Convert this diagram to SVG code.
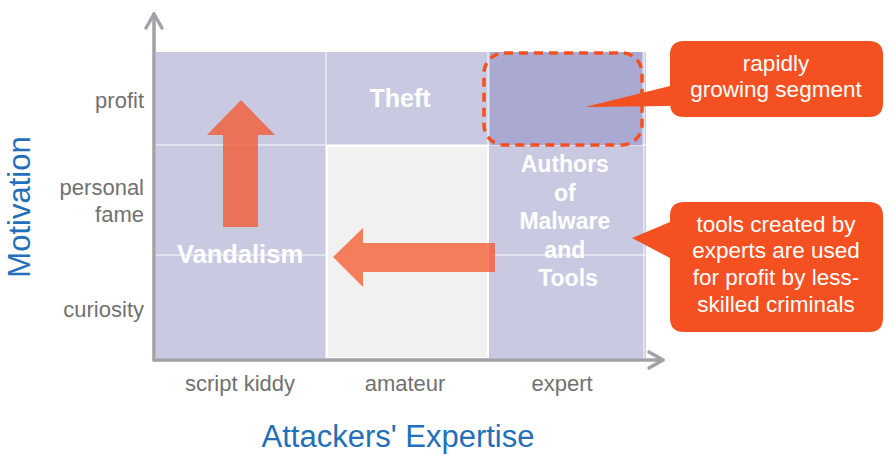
<svg xmlns="http://www.w3.org/2000/svg" width="893" height="464" viewBox="0 0 893 464">
<style>
.tick{font-family:"Liberation Sans",Arial,sans-serif;font-size:22px;fill:#717171}
.axt{font-family:"Liberation Sans",Arial,sans-serif;font-size:31px;fill:#2370b8}
.cell{font-family:"Liberation Sans",Arial,sans-serif;font-weight:bold;fill:#ffffff;text-anchor:middle}
.call{font-family:"Liberation Sans",Arial,sans-serif;font-size:22.5px;fill:#ffffff;text-anchor:middle}
.lav{fill:#c9cae2}
.grid{stroke:#ffffff;stroke-opacity:0.45;stroke-width:2;fill:none}
.axis{stroke:#a2a2a6;stroke-width:3.5;fill:none;stroke-linecap:round;stroke-linejoin:round}
.big{fill:#f55022;fill-opacity:0.72}
.bubble{fill:#f55022}
</style>
<rect width="893" height="464" fill="#ffffff"/>
<g id="grid">
<rect class="lav" x="156" y="52" width="490" height="93"/>
<rect class="lav" x="156" y="145" width="170" height="213"/>
<rect class="lav" x="489" y="145" width="157" height="213"/>
<rect x="327" y="146" width="161" height="212" fill="#f1f1f1" stroke="#ffffff" stroke-width="2"/>
<line class="grid" x1="326" y1="52" x2="326" y2="358"/>
<line class="grid" x1="488" y1="52" x2="488" y2="145"/>
<line class="grid" x1="156" y1="145" x2="646" y2="145"/>
<line class="grid" x1="156" y1="255" x2="326" y2="255"/>
<line class="grid" x1="490" y1="255" x2="646" y2="255"/>
<line class="grid" x1="644" y1="52" x2="644" y2="358"/>
</g>
<g id="segment">
<rect x="490" y="52" width="152" height="93" fill="#a9a9d1"/>
<rect x="484" y="53" width="158" height="92" rx="20" fill="none" stroke="#f55022" stroke-width="3.5" stroke-dasharray="9 6"/>
</g>
<g id="axes">
<line class="axis" x1="154" y1="360" x2="154" y2="14"/>
<polyline class="axis" points="146,28 154,14 162,28"/>
<line class="axis" x1="154" y1="360" x2="663" y2="360"/>
<polyline class="axis" points="649,352 663,360 649,368"/>
</g>
<g id="y-labels">
<text class="tick" x="144" y="108" text-anchor="end">profit</text>
<text class="tick" x="144" y="195" text-anchor="end">personal</text>
<text class="tick" x="144" y="222" text-anchor="end">fame</text>
<text class="tick" x="144" y="317" text-anchor="end">curiosity</text>
<text class="axt" transform="translate(30,207) rotate(-90)" text-anchor="middle">Motivation</text>
</g>
<g id="x-labels">
<text class="tick" x="240" y="391" text-anchor="middle">script kiddy</text>
<text class="tick" x="405" y="391" text-anchor="middle">amateur</text>
<text class="tick" x="562" y="391" text-anchor="middle">expert</text>
<text class="axt" x="398" y="447" text-anchor="middle">Attackers' Expertise</text>
</g>
<g id="cells">
<text class="cell" x="400" y="107" font-size="25px">Theft</text>
<text class="cell" x="240" y="263" font-size="25.5px">Vandalism</text>
<text class="cell" font-size="23px" x="568">
<tspan x="568" y="172">Authors</tspan>
<tspan x="568" y="200.5">of</tspan>
<tspan x="568" y="229">Malware</tspan>
<tspan x="568" y="257.5">and</tspan>
<tspan x="568" y="286">Tools</tspan>
</text>
</g>
<g id="connectors">
<polygon id="up-arrow" class="big" points="241,100 275,135 258,135 258,227 223,227 223,135 207,135"/>
<polygon id="left-arrow" class="big" points="333,257 363,228 363,243 495,243 495,272 363,272 363,287"/>
</g>
<g id="callout-growing">
<path class="bubble" d="M684,41 H869 Q883,41 883,55 V103 Q883,117 869,117 H684 Q670,117 670,103 V106 L585,107 L670,86 V55 Q670,41 684,41 Z"/>
<text class="call" x="776" y="71">rapidly</text>
<text class="call" x="776" y="97">growing segment</text>
</g>
<g id="callout-tools">
<path class="bubble" d="M684,202 H869 Q883,202 883,216 V318 Q883,332 869,332 H684 Q670,332 670,318 V258 L632,238 L670,222 V216 Q670,202 684,202 Z"/>
<text class="call" x="776" y="232">tools created by</text>
<text class="call" x="776" y="258">experts are used</text>
<text class="call" x="776" y="285">for profit by less-</text>
<text class="call" x="776" y="312">skilled criminals</text>
</g>
</svg>
